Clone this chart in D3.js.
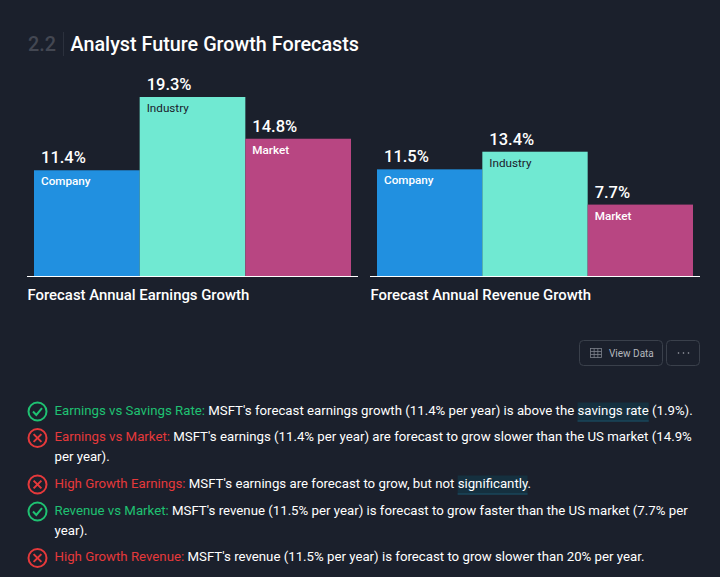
<!DOCTYPE html>
<html>
<head>
<meta charset="utf-8">
<script src="https://cdn.jsdelivr.net/npm/d3@7"></script>
<style>
  html, body { margin: 0; padding: 0; background: #1b202c; }
  svg { display: block; font-family: Roboto, sans-serif; }
</style>
</head>
<body>
<svg id="chart" width="720" height="577"></svg>
<script>
const categories = ['Company', 'Industry', 'Market'];
const earningsValues = [11.4, 19.3, 14.8];
const revenueValues = [11.5, 13.4, 7.7];
const chartTitles = ['Forecast Annual Earnings Growth', 'Forecast Annual Revenue Growth'];

const bulletPass = [true, false, false, true, false];
const bulletHeads = ['Earnings vs Savings Rate:', 'Earnings vs Market:', 'High Growth Earnings:', 'Revenue vs Market:', 'High Growth Revenue:'];
const bulletBodies = [
  ["MSFT's forecast earnings growth (11.4% per year) is above the savings rate (1.9%)."],
  ["MSFT's earnings (11.4% per year) are forecast to grow slower than the US market (14.9%", 'per year).'],
  ["MSFT's earnings are forecast to grow, but not significantly."],
  ["MSFT's revenue (11.5% per year) is forecast to grow faster than the US market (7.7% per", 'year).'],
  ["MSFT's revenue (11.5% per year) is forecast to grow slower than 20% per year."]
];
const bulletHighlights = ['savings rate', null, 'significantly', null, null];

const colors = { Company: '#2190e0', Industry: '#70e9d2', Market: '#b84682' };
const labelColors = { Company: '#fff', Industry: '#1b202c', Market: '#fff' };
const labelWeights = { Company: 500, Industry: 400, Market: 500 };
const green = '#1fc172';
const red = '#e5393b';

const svg = d3.select('#chart');

// header
svg.append('text').attr('x', 28).attr('y', 51).attr('font-size', 19.8).attr('font-weight', 500).attr('fill', '#434752').text('2.2');
svg.append('line').attr('x1', 63.5).attr('x2', 63.5).attr('y1', 32).attr('y2', 56).attr('stroke', '#2c313d');
svg.append('text').attr('x', 70.5).attr('y', 51).attr('font-size', 19.8).attr('font-weight', 500).attr('fill', '#fff').text('Analyst Future Growth Forecasts');

// both panels share one y scale
const y = d3.scaleLinear().domain([0, 19.3]).range([276, 97]);

function drawPanel(values, left, right, title) {
  const x = d3.scaleBand().domain(categories).range([left, right]);
  const g = svg.append('g');
  const rows = categories.map((c, i) => ({ c, v: values[i] }));

  g.selectAll('rect').data(rows).join('rect')
    .attr('x', d => x(d.c))
    .attr('y', d => y(d.v))
    .attr('width', x.bandwidth())
    .attr('height', d => y(0) - y(d.v))
    .attr('fill', d => colors[d.c]);

  g.selectAll('.val').data(rows).join('text')
    .attr('class', 'val')
    .attr('x', d => x(d.c) + 7)
    .attr('y', d => y(d.v) - 7)
    .attr('font-size', 16.5)
    .attr('font-weight', 500)
    .attr('fill', '#fff')
    .text(d => d.v.toFixed(1) + '%');

  g.selectAll('.cat').data(rows).join('text')
    .attr('class', 'cat')
    .attr('x', d => x(d.c) + 7)
    .attr('y', d => y(d.v) + 15)
    .attr('font-size', 11.7)
    .attr('font-weight', d => labelWeights[d.c])
    .attr('fill', d => labelColors[d.c])
    .text(d => d.c);

  g.append('line')
    .attr('x1', left - 7).attr('x2', right + 7)
    .attr('y1', y(0) + 0.5).attr('y2', y(0) + 0.5)
    .attr('stroke', '#fff').attr('stroke-width', 1);

  g.append('text')
    .attr('x', left - 6.5).attr('y', 300)
    .attr('font-size', 14.9).attr('font-weight', 500).attr('fill', '#fff')
    .text(title);
}

drawPanel(earningsValues, 34, 351, chartTitles[0]);
drawPanel(revenueValues, 377, 693, chartTitles[1]);

// buttons
svg.append('rect').attr('x', 579.5).attr('y', 340.5).attr('width', 83).attr('height', 25).attr('rx', 4)
  .attr('fill', 'none').attr('stroke', '#3a404b');
svg.append('rect').attr('x', 666.5).attr('y', 340.5).attr('width', 33).attr('height', 25).attr('rx', 4)
  .attr('fill', 'none').attr('stroke', '#3a404b');
const icon = svg.append('g').attr('fill', 'none').attr('stroke', '#7d828c').attr('stroke-width', 0.8);
icon.append('rect').attr('x', 590.5).attr('y', 348.5).attr('width', 11).attr('height', 9);
d3.range(1, 3).forEach(i => icon.append('line').attr('x1', 590.5).attr('x2', 601.5).attr('y1', 348.5 + i * 3).attr('y2', 348.5 + i * 3));
d3.range(1, 3).forEach(i => icon.append('line').attr('x1', 590.5 + i * 3.67).attr('x2', 590.5 + i * 3.67).attr('y1', 348.5).attr('y2', 357.5));
svg.append('text').attr('x', 609).attr('y', 357).attr('font-size', 10).attr('fill', '#b4b7bd').text('View Data');
svg.selectAll('.dot').data(d3.range(3)).join('circle').attr('class', 'dot')
  .attr('cx', d => 678.5 + d * 5).attr('cy', 353).attr('r', 0.8).attr('fill', '#a3a7ae');

// bullet list
const fontSize = 13.24;
const lineGap = 20;
const rowBaselines = [414.5, 441, 487.5, 514.5, 561];

bulletHeads.forEach((head, i) => {
  const base = rowBaselines[i];
  const col = bulletPass[i] ? green : red;
  const g = svg.append('g');
  const cy = base - 3;

  g.append('circle').attr('cx', 37.5).attr('cy', cy).attr('r', 9).attr('fill', 'none').attr('stroke', col).attr('stroke-width', 2);
  if (bulletPass[i]) {
    g.append('path').attr('d', d3.line()([[33, cy], [36.3, cy + 3.4], [42, cy - 3.4]]))
      .attr('fill', 'none').attr('stroke', col).attr('stroke-width', 2);
  } else {
    g.append('path').attr('d', `M33.6 ${cy - 3.9}L41.4 ${cy + 3.9}M41.4 ${cy - 3.9}L33.6 ${cy + 3.9}`)
      .attr('fill', 'none').attr('stroke', col).attr('stroke-width', 2);
  }

  const bg = g.append('g');
  const t = g.append('text').attr('x', 54.5).attr('y', base).attr('font-size', fontSize).attr('fill', '#fff');
  t.append('tspan').attr('fill', col).text(head + ' ');
  t.append('tspan').text(bulletBodies[i][0]);

  if (bulletHighlights[i]) {
    const full = head + ' ' + bulletBodies[i][0];
    const start = full.indexOf(bulletHighlights[i]);
    const node = t.node();
    const x0 = node.getSubStringLength(0, start) + 54.5;
    const w = node.getSubStringLength(start, bulletHighlights[i].length);
    bg.append('rect').attr('x', x0).attr('y', base - 12).attr('width', w).attr('height', 19).attr('fill', '#15303f');
    bg.append('rect').attr('x', x0).attr('y', base + 6).attr('width', w).attr('height', 1).attr('fill', '#1c5068');
  }

  if (bulletBodies[i][1]) {
    g.append('text').attr('x', 54.5).attr('y', base + lineGap).attr('font-size', fontSize).attr('fill', '#fff').text(bulletBodies[i][1]);
  }
});
</script>
</body>
</html>
